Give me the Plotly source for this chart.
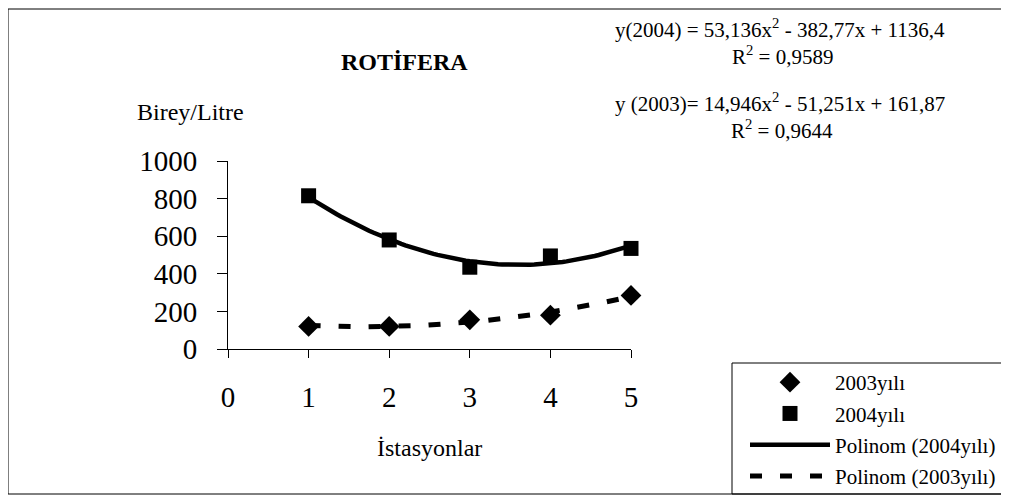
import numpy as np
import plotly.graph_objects as go

istasyon = [1, 2, 3, 4, 5]
y2003 = [120, 120, 155, 180, 285]
y2004 = [815, 580, 435, 495, 535]

# trend coefficients as printed on the chart (a*x^2 + b*x + c)
coef2004 = [53.136, -382.77, 1136.4]
coef2003 = [14.946, -51.251, 161.87]
eq2004 = "y(2004) = 53,136x<sup>2</sup> - 382,77x + 1136,4"
r2004 = "R<sup>2</sup> = 0,9589"
eq2003 = "y (2003)= 14,946x<sup>2</sup> - 51,251x + 161,87"
r2003 = "R<sup>2</sup> = 0,9644"

xs = np.linspace(1, 5, 81)
fit2004 = np.polyval(coef2004, xs)
fit2003 = np.polyval(coef2003, xs)

FONT = "Liberation Serif, Times New Roman, serif"

fig = go.Figure()
fig.add_trace(go.Scatter(x=xs, y=fit2003, mode="lines", name="Polinom (2003yılı)",
                         line=dict(color="black", width=5, dash="12px,18px"),
                         legendrank=4, legendgroup="d", cliponaxis=False))
fig.add_trace(go.Scatter(x=xs, y=fit2004, mode="lines", name="Polinom (2004yılı)",
                         line=dict(color="black", width=4.5),
                         legendrank=3, legendgroup="c", cliponaxis=False))
fig.add_trace(go.Scatter(x=istasyon, y=y2003, mode="markers", name="2003yılı",
                         marker=dict(symbol="diamond", size=16, color="black"),
                         legendrank=1, legendgroup="a", cliponaxis=False))
fig.add_trace(go.Scatter(x=istasyon, y=y2004, mode="markers", name="2004yılı",
                         marker=dict(symbol="square", size=15, color="black"),
                         legendrank=2, legendgroup="b", cliponaxis=False))

# page body adds 8px offset, so the figure is drawn 8px smaller
OFF = 8
W, H = 1009 - OFF, 497 - OFF
L, R, T, B = 228, 631, 161, 349
pw, ph = R - L, B - T
def px(x):
    return (x - L) / pw
def py(y):
    return (B - y) / ph

fig.add_shape(type="rect", xref="paper", yref="paper",
              x0=px(8), x1=px(1004), y0=py(494), y1=py(9),
              line=dict(color="black", width=1), layer="below")
fig.add_shape(type="rect", xref="paper", yref="paper",
              x0=px(732), x1=px(1004), y0=py(494), y1=py(363),
              line=dict(color="black", width=1), layer="below")

ann = [
    dict(text="<b>ROTİFERA</b>", x=px(404), y=py(62), size=24),
    dict(text="Birey/Litre", x=px(190), y=py(112), size=24),
    dict(text="İstasyonlar", x=px(429), y=py(448), size=24),
    dict(text=eq2004, x=px(780), y=py(28), size=21),
    dict(text=r2004, x=px(782), y=py(55), size=21),
    dict(text=eq2003, x=px(780), y=py(102), size=21),
    dict(text=r2003, x=px(782), y=py(129), size=21),
]
for a in ann:
    fig.add_annotation(text=a["text"], x=a["x"], y=a["y"], xref="paper", yref="paper",
                       showarrow=False, xanchor="center", yanchor="middle",
                       font=dict(family=FONT, size=a["size"], color="black"))

fig.update_layout(
    width=W, height=H,
    margin=dict(l=L - OFF, r=W - (R - OFF), t=T - OFF, b=H - (B - OFF), autoexpand=False),
    paper_bgcolor="white", plot_bgcolor="white",
    font=dict(family=FONT, color="black"),
    xaxis=dict(range=[0, 5], tickvals=[0, 1, 2, 3, 4, 5], showgrid=False, zeroline=False,
               showline=True, linecolor="black", linewidth=1, ticks="outside",
               ticklen=8, tickcolor="black", ticklabelstandoff=14,
               tickfont=dict(size=29, family=FONT)),
    yaxis=dict(range=[0, 1000], tickvals=[0, 200, 400, 600, 800, 1000], showgrid=False,
               zeroline=False, showline=True, linecolor="black", linewidth=1,
               ticks="outside", ticklen=10, tickcolor="black", ticklabelstandoff=14,
               tickfont=dict(size=29, family=FONT)),
    legend=dict(x=px(745), y=py(362), xanchor="left", yanchor="top",
                borderwidth=0, bgcolor="rgba(0,0,0,0)",
                font=dict(size=21, family=FONT), tracegroupgap=1,
                itemwidth=80),
    showlegend=True,
)

fig.write_html("out.html")
